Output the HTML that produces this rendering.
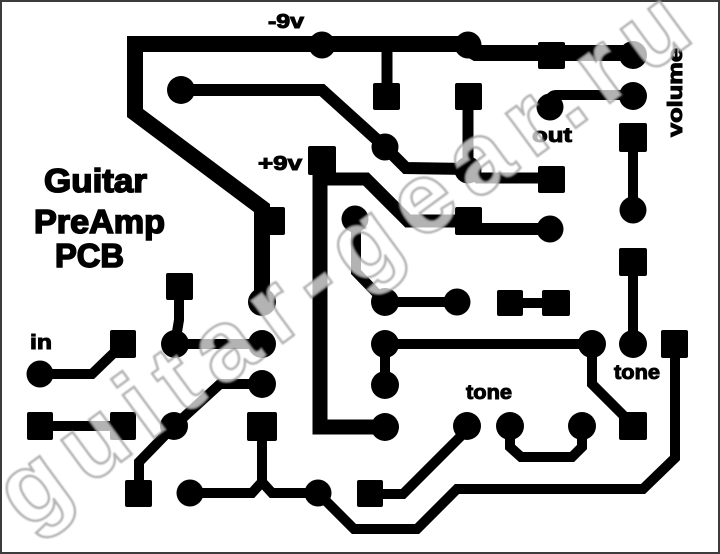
<!DOCTYPE html>
<html>
<head>
<meta charset="utf-8">
<style>
html,body{margin:0;padding:0;background:#fff;}
body{width:720px;height:554px;overflow:hidden;}
svg{display:block;}
text{font-family:"Liberation Sans",Arial,sans-serif;font-weight:bold;}
</style>
</head>
<body>
<svg width="720" height="554" viewBox="0 0 720 554" xmlns="http://www.w3.org/2000/svg">
<defs>
<filter id="soft" x="-5%" y="-5%" width="110%" height="110%">
<feGaussianBlur stdDeviation="0.9"/>
</filter>
</defs>
<rect x="1" y="1" width="718" height="552" fill="#fff" stroke="#3c3c3c" stroke-width="2"/>

<!-- thick power traces -->
<g fill="none" stroke="#000" stroke-linejoin="miter" stroke-linecap="butt">
<polyline points="262,302 262,208 135,113 135,44 460,44 476,53 633,53" stroke-width="16"/>
<polyline points="320,165 320,427 385,427" stroke-width="15"/>
<polyline points="322,179 366,179 408,221 468,221" stroke-width="13"/>
<polyline points="468,222 480,229 550,229" stroke-width="12"/>
<polyline points="181,90 322,90 385,147 406,168 468,169" stroke-width="12"/>
<polyline points="468,170 478,178 551,178" stroke-width="11"/>
<line x1="468" y1="96" x2="468" y2="170" stroke-width="11"/>
<line x1="387" y1="44" x2="387" y2="96" stroke-width="11"/>
<path d="M550,107 L550,101 Q550,95 557,95 L633,95" stroke-width="10"/>
<line x1="633" y1="137" x2="633" y2="210" stroke-width="10"/>
<line x1="633" y1="262" x2="633" y2="344" stroke-width="10"/>
<polyline points="356,219 356,272 385,302 457,302" stroke-width="10"/>
<line x1="510" y1="303" x2="556" y2="303" stroke-width="10"/>
<polyline points="385,385 385,344 592,344 592,384 630,422" stroke-width="10"/>
<polyline points="40,374 92,374 123,344" stroke-width="10"/>
<line x1="40" y1="426" x2="123" y2="426" stroke-width="10"/>
<polyline points="179,286 179,320 175,344 262,344" stroke-width="10"/>
<polyline points="262,384 220,384 174,426 139,462 139,493" stroke-width="10"/>
<polyline points="190,493 252,493 262,482 272,493 318,493" stroke-width="10"/>
<line x1="262" y1="426" x2="262" y2="483" stroke-width="10"/>
<polyline points="318,493 354,529 417,529 457,489 643,489 675,458 675,344" stroke-width="10"/>
<polyline points="370,494 403,494 467,430" stroke-width="10"/>
<polyline points="510,426 510,447 521,457 572,457 582,447 582,426" stroke-width="10"/>
</g>

<!-- round pads -->
<g fill="#000">
<circle cx="322" cy="45" r="13.5"/>
<circle cx="468" cy="45" r="13.5"/>
<circle cx="633" cy="55" r="14"/>
<circle cx="633" cy="96" r="14"/>
<circle cx="550" cy="107" r="13.5"/>
<circle cx="181" cy="90" r="14"/>
<circle cx="385" cy="147" r="13.5"/>
<circle cx="468" cy="170" r="13.5"/>
<circle cx="633" cy="210" r="13.5"/>
<circle cx="355" cy="219" r="13.5"/>
<circle cx="550" cy="229" r="13.5"/>
<circle cx="262" cy="302" r="14"/>
<circle cx="385" cy="302" r="14"/>
<circle cx="457" cy="302" r="13.5"/>
<circle cx="40" cy="374" r="13.5"/>
<circle cx="175" cy="344" r="14"/>
<circle cx="262" cy="344" r="14"/>
<circle cx="262" cy="384" r="14"/>
<circle cx="385" cy="344" r="14"/>
<circle cx="592" cy="344" r="14"/>
<circle cx="633" cy="344" r="14"/>
<circle cx="385" cy="385" r="14"/>
<circle cx="174" cy="426" r="14"/>
<circle cx="385" cy="427" r="14"/>
<circle cx="467" cy="426" r="14"/>
<circle cx="510" cy="426" r="14"/>
<circle cx="582" cy="426" r="14"/>
<circle cx="190" cy="493" r="13.5"/>
<circle cx="318" cy="493" r="13.5"/>
</g>

<!-- square pads -->
<g fill="#000">
<rect x="538" y="42" width="27" height="27" rx="2"/>
<rect x="373" y="83" width="27" height="27" rx="2"/>
<rect x="455" y="83" width="27" height="27" rx="2"/>
<rect x="619" y="123" width="28" height="29" rx="2"/>
<rect x="538" y="166" width="27" height="27" rx="2"/>
<rect x="308" y="146" width="28" height="29" rx="2"/>
<rect x="257" y="207" width="28" height="28" rx="2"/>
<rect x="455" y="207" width="27" height="28" rx="2"/>
<rect x="619" y="248" width="28" height="28" rx="2"/>
<rect x="166" y="273" width="27" height="27" rx="2"/>
<rect x="497" y="290" width="26" height="26" rx="2"/>
<rect x="542" y="290" width="28" height="26" rx="2"/>
<rect x="110" y="330" width="26" height="28" rx="2"/>
<rect x="661" y="330" width="27" height="28" rx="2"/>
<rect x="27" y="412" width="26" height="28" rx="2"/>
<rect x="110" y="412" width="26" height="28" rx="2"/>
<rect x="247" y="412" width="30" height="29" rx="2"/>
<rect x="619" y="412" width="28" height="28" rx="2"/>
<rect x="125" y="480" width="27" height="27" rx="2"/>
<rect x="357" y="480" width="26" height="27" rx="2"/>
</g>

<!-- labels -->
<g fill="#000" stroke="#000" stroke-width="1">
<text x="268" y="28" font-size="20" textLength="36" lengthAdjust="spacingAndGlyphs">-9v</text>
<text x="258" y="170" font-size="20" textLength="44" lengthAdjust="spacingAndGlyphs">+9v</text>
<text x="532" y="142" font-size="20" textLength="40" lengthAdjust="spacingAndGlyphs">out</text>
<text x="30" y="349" font-size="20" textLength="22" lengthAdjust="spacingAndGlyphs">in</text>
<text x="466" y="399" font-size="20" textLength="46" lengthAdjust="spacingAndGlyphs">tone</text>
<text x="614" y="379" font-size="20" textLength="46" lengthAdjust="spacingAndGlyphs">tone</text>
<text transform="translate(682,137) rotate(-90)" font-size="20" textLength="89" lengthAdjust="spacingAndGlyphs">volume</text>
</g>
<g fill="#000" stroke="#000" stroke-width="1.6">
<text x="44" y="192" font-size="33" textLength="103" lengthAdjust="spacingAndGlyphs">Guitar</text>
<text x="34" y="233" font-size="33" textLength="131" lengthAdjust="spacingAndGlyphs">PreAmp</text>
<text x="55" y="267" font-size="33" textLength="69" lengthAdjust="spacingAndGlyphs">PCB</text>
</g>

<!-- watermark -->
<g filter="url(#soft)">
<text transform="translate(27,531) rotate(-36.3)" font-size="100" letter-spacing="14.3"
 fill="#ffffff" fill-opacity="0.7" stroke="#9a9a9a" stroke-opacity="0.75" stroke-width="2.5">guitar-gear.ru</text>
</g>
</svg>
</body>
</html>
